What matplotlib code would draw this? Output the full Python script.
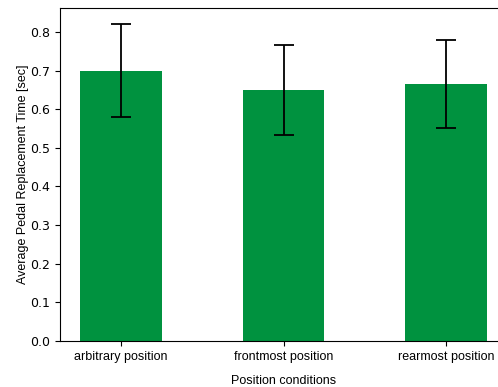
import matplotlib
matplotlib.use("Agg")
import matplotlib.pyplot as plt

conditions = ["arbitrary position", "frontmost position", "rearmost position"]
mean_time = [0.700, 0.650, 0.665]
err_time = [0.120, 0.117, 0.114]

fig = plt.figure(figsize=(4.98, 3.87), dpi=100)
# axes run slightly past the right edge of the image, as in the reference
ax = fig.add_axes([60 / 498, 1 - 341 / 387, 447 / 498, 333 / 387])

x = list(range(len(conditions)))
ax.bar(x, mean_time, width=0.5, color="#00923f")
ax.errorbar(x, mean_time, yerr=err_time, fmt="none", ecolor="black",
            elinewidth=1.3, capsize=7, capthick=1.3)

ax.set_xlim(-0.375, 2.375)
ax.set_ylim(0, 0.862)
ax.set_yticks([0.0, 0.1, 0.2, 0.3, 0.4, 0.5, 0.6, 0.7, 0.8])
ax.set_xticks(x)
ax.set_xticklabels(conditions, fontname="Liberation Sans", fontsize=9)
ax.tick_params(labelsize=9)

ax.set_xlabel("Position conditions", fontname="Liberation Sans", fontsize=9, labelpad=9)
ax.set_ylabel("Average Pedal Replacement Time [sec]", fontname="Liberation Sans", fontsize=9, labelpad=1)

fig.savefig("out.png", dpi=100)
